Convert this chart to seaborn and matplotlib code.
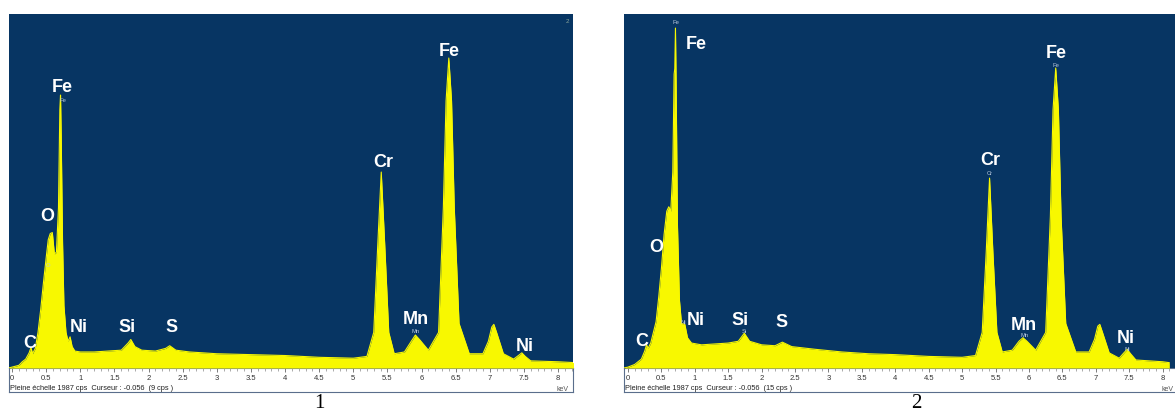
import numpy as np
import matplotlib
matplotlib.use("Agg")
import matplotlib.pyplot as plt
import seaborn as sns

# spectrum 1 (keV, counts)
energy_1 = [-0.05, 0.00, 0.10, 0.15, 0.20, 0.25, 0.277, 0.30, 0.34, 0.38, 0.42, 0.46,
            0.50, 0.53, 0.56, 0.59, 0.62, 0.65, 0.68, 0.70, 0.71, 0.72, 0.74, 0.76,
            0.79, 0.82, 0.85, 0.88, 0.92, 1.0, 1.2, 1.4, 1.6, 1.7, 1.74, 1.80, 1.9,
            2.1, 2.25, 2.31, 2.4, 2.6, 3.0, 3.5, 4.0, 4.5, 5.0, 5.2, 5.3, 5.36, 5.41,
            5.46, 5.52, 5.6, 5.75, 5.85, 5.91, 5.97, 6.1, 6.25, 6.32, 6.36, 6.40, 6.44,
            6.48, 6.55, 6.7, 6.9, 6.98, 7.03, 7.06, 7.10, 7.2, 7.35, 7.42, 7.47, 7.52,
            7.6, 8.0, 8.25]
counts_1 = [0, 5, 15, 35, 50, 85, 115, 80, 110, 200, 330, 480,
            620, 720, 755, 760, 640, 650, 900, 1450, 1532, 1300, 700, 350,
            200, 150, 175, 120, 95, 90, 90, 95, 100, 140, 160, 120, 100,
            95, 110, 125, 100, 90, 80, 75, 70, 60, 55, 65, 200, 700, 1100,
            700, 200, 80, 90, 150, 185, 160, 100, 200, 900, 1500, 1740, 1500,
            900, 250, 80, 80, 150, 230, 245, 200, 80, 50, 70, 85, 65,
            40, 35, 30]

# spectrum 2
energy_2 = [-0.06, 0.00, 0.10, 0.20, 0.25, 0.277, 0.30, 0.34, 0.38, 0.42, 0.46, 0.50,
            0.54, 0.58, 0.61, 0.64, 0.67, 0.69, 0.70, 0.71, 0.72, 0.74, 0.77, 0.80, 0.85,
            0.89, 0.95, 1.1, 1.3, 1.5, 1.65, 1.74, 1.82, 2.0, 2.2, 2.31, 2.45, 2.8,
            3.2, 3.6, 4.0, 4.5, 5.0, 5.2, 5.3, 5.36, 5.41, 5.46, 5.52, 5.6, 5.75,
            5.85, 5.91, 5.97, 6.1, 6.25, 6.32, 6.36, 6.40, 6.44, 6.48, 6.55, 6.7,
            6.9, 6.98, 7.03, 7.06, 7.10, 7.2, 7.35, 7.42, 7.47, 7.52, 7.6, 8.0, 8.1]
counts_2 = [0, 5, 20, 50, 95, 130, 110, 140, 200, 260, 400, 560,
            750, 880, 905, 880, 1100, 1650, 1680, 1908, 1600, 800, 380, 250, 245,
            170, 140, 130, 135, 140, 150, 195, 150, 130, 125, 145, 120, 105,
            90, 80, 75, 65, 60, 70, 200, 650, 1066, 650, 200, 90, 100,
            150, 170, 150, 100, 200, 850, 1450, 1684, 1450, 850, 250, 90,
            90, 160, 235, 245, 200, 85, 55, 85, 105, 80, 45, 35, 30]

full_scale = 1987
info_1 = "Pleine échelle 1987 cps  Curseur : -0.056  (9 cps )"
info_2 = "Pleine échelle 1987 cps  Curseur : -0.056  (15 cps )"

# element labels: (text, keV, counts)
labels_1 = [("C", 0.26, 140), ("O", 0.51, 848), ("Fe", 0.73, 1572), ("Ni", 0.98, 230),
            ("Si", 1.68, 230), ("S", 2.33, 230), ("Cr", 5.44, 1151), ("Mn", 5.92, 270),
            ("Fe", 6.40, 1774), ("Ni", 7.52, 123)]
small_1 = [("Fe", 0.75, 1500), ("O", 0.53, 578), ("Mn", 5.92, 205)]
labels_2 = [("Fe", 1.02, 1813), ("O", 0.42, 674), ("C", 0.2, 146), ("Ni", 1.02, 269),
            ("Si", 1.68, 269), ("S", 2.29, 258), ("Cr", 5.42, 1162), ("Fe", 6.41, 1768),
            ("Mn", 5.93, 236), ("Ni", 7.45, 163)]
small_2 = [("Fe", 0.71, 1942), ("Ni", 0.83, 253), ("Si", 1.74, 205), ("Cr", 5.42, 1090),
           ("Fe", 6.41, 1700), ("Mn", 5.93, 180), ("Ni", 7.47, 105)]

sns.set_style("white")
plt.rcParams['font.family'] = ['Liberation Sans', 'DejaVu Sans']

BLUE = "#073563"
YELLOW = "#F8F800"
W, H = 1175, 415

fig = plt.figure(figsize=(W / 100, H / 100), dpi=100)


def px_box(x0, x1, y0, y1):
    return [x0 / W, (H - y1) / H, (x1 - x0) / W, (y1 - y0) / H]


def panel(x0, x1, xlim, energy, counts, labels, small, info, number, num_x):
    strip = fig.add_axes(px_box(x0, x1, 368, 392))
    strip.set_xticks([])
    strip.set_yticks([])
    for s in strip.spines.values():
        s.set_color("#5a6e8c")
        s.set_linewidth(0.8)

    ax = fig.add_axes(px_box(x0, x1, 14, 368))
    ax.set_facecolor(BLUE)
    sns.lineplot(x=energy, y=counts, ax=ax, color=YELLOW, linewidth=0.8)
    ax.fill_between(energy, counts, 0, color=YELLOW, linewidth=0)
    ax.set_xlim(*xlim)
    ax.set_ylim(0, full_scale)
    ax.set_yticks([])
    ax.set_xticks(np.arange(0, 8.01, 0.5))
    ax.set_xticklabels([f"{v:g}" for v in np.arange(0, 8.01, 0.5)])
    ax.set_xticks(np.arange(0, 8.21, 0.1), minor=True)
    ax.tick_params(axis="x", which="major", bottom=True, direction="out", length=3,
                   width=0.6, color="#666666", labelsize=5.5, labelcolor="#333333", pad=2)
    ax.tick_params(axis="x", which="minor", bottom=True, direction="out", length=2,
                   width=0.5, color="#888888")
    for s in ax.spines.values():
        s.set_visible(False)
    ax.set_xlabel("")
    ax.set_ylabel("")

    for txt, e, c in labels:
        ax.text(e, c, txt, color="white", fontsize=13, fontweight="bold",
                ha="center", va="center")
    for txt, e, c in small:
        ax.text(e, c, txt, color="#b8c8de", fontsize=4.2, ha="center", va="center")

    ax.text(8.07, -0.062 * full_scale, "keV", fontsize=5, color="#555555",
            ha="center", va="center", clip_on=False)
    ax.text(xlim[0] + 0.02, -0.057 * full_scale, info, fontsize=5.3, color="#222222",
            ha="left", va="center", clip_on=False)
    fig.text(num_x / W, 1 - 403 / H, number, fontsize=15, color="black",
             family="Liberation Serif", ha="center", va="center")
    return ax


ax1 = panel(9, 573, (-0.045, 8.22), energy_1, counts_1, labels_1, small_1, info_1, "1", 319)
ax1.text(0.993, 0.985, "2", transform=ax1.transAxes, fontsize=4.5, color="#8aa59a",
         ha="right", va="top")
ax2 = panel(624, 1176, (-0.06, 8.09), energy_2, counts_2, labels_2, small_2, info_2, "2", 916)

fig.savefig("out.png", dpi=100, facecolor="white")
